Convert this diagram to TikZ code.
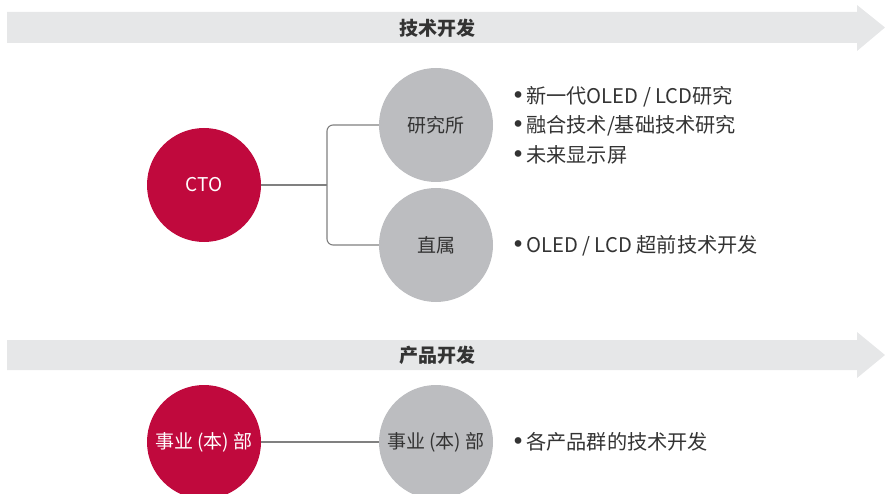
\documentclass[tikz,border=0pt]{standalone}
\usepackage{fontspec}
\setmainfont{Noto Sans CJK SC}
\newfontfamily\bulfont{DejaVu Sans}
\usetikzlibrary{calc}
\definecolor{barbg}{HTML}{E6E7E8}
\definecolor{lgred}{HTML}{C0093D}
\definecolor{cgray}{HTML}{BCBDC0}
\definecolor{txt}{HTML}{333333}
\definecolor{linec}{HTML}{808080}
\tikzset{
  redc/.style={circle, fill=lgred, minimum size=114pt, inner sep=0pt, text=white, font=\fontsize{19}{22}\selectfont},
  grayc/.style={circle, fill=cgray, minimum size=114pt, inner sep=0pt, text=txt, font=\fontsize{19}{22}\selectfont},
  bar/.style={fill=barbg, draw=none},
  bartitle/.style={text=txt, font=\fontsize{19}{22}\selectfont\bfseries, inner sep=0pt},
  item/.style={anchor=west, text=txt, font=\fontsize{20.2}{24}\selectfont, inner sep=0pt},
  conn/.style={draw=linec, line width=1.1pt},
}
\newcommand{\bul}{\makebox[16pt][c]{\bulfont\fontsize{23}{24}\selectfont •}}
\begin{document}
\begin{tikzpicture}[x=1pt, y=-1pt]
\useasboundingbox (0,0) rectangle (885,494);
\begin{scope}
\clip (0,0) rectangle (885,494);
% top arrow
\fill[bar] (7,12) -- (857,12) -- (857,5) -- (885,27.5) -- (857,51) -- (857,43) -- (7,43) -- cycle;
\node[bartitle] (t1) at (437,28) {技术开发};
% bottom arrow
\fill[bar] (7,340) -- (857,340) -- (857,332) -- (885,355) -- (857,378) -- (857,370) -- (7,370) -- cycle;
\node[bartitle] (t2) at (437,355) {产品开发};

% top nodes
\node[redc] (cto) at (204,185) {CTO};
\node[grayc] (lab) at (436,125) {研究所};
\node[grayc] (dir) at (436,245) {直属};
\coordinate (j) at (327,185);
\draw[conn] (cto.east) -- (j);
\draw[conn, rounded corners=6pt] (lab.west) -| (j) |- (dir.west);

\node[item] (i1) at (510,97) {\bul 新一代OLED / LCD研究};
\node[item] (i2) at (510,126) {\bul 融合技术/基础技术研究};
\node[item] (i3) at (510,155) {\bul 未来显示屏};
\node[item] (i4) at (510,246) {\bul OLED / LCD 超前技术开发};

% bottom nodes
\node[redc] (bu1) at (204,442) {事业 (本) 部};
\node[grayc] (bu2) at (436,442) {事业 (本) 部};
\draw[conn] (bu1.east) -- (bu2.west);
\node[item] (i5) at (510,442) {\bul 各产品群的技术开发};
\end{scope}
\end{tikzpicture}
\end{document}
